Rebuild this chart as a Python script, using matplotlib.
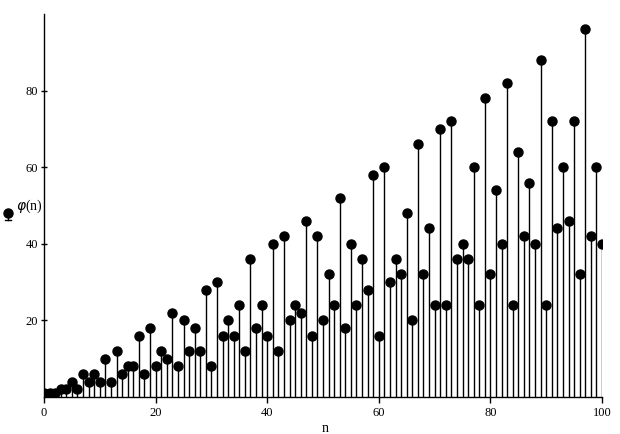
import numpy as np
import matplotlib
matplotlib.use("Agg")
import matplotlib.pyplot as plt
from matplotlib.lines import Line2D

# n = 0..100 and the plotted values phi(n)
n_values = list(range(0, 101))
phi_values = [
    1,
    1, 1, 2, 2, 4, 2, 6, 4, 6, 4,
    10, 4, 12, 6, 8, 8, 16, 6, 18, 8,
    12, 10, 22, 8, 20, 12, 18, 12, 28, 8,
    30, 16, 20, 16, 24, 12, 36, 18, 24, 16,
    40, 12, 42, 20, 24, 22, 46, 16, 42, 20,
    32, 24, 52, 18, 40, 24, 36, 28, 58, 16,
    60, 30, 36, 32, 48, 20, 66, 32, 44, 24,
    70, 24, 72, 36, 40, 36, 60, 24, 78, 32,
    54, 40, 82, 24, 64, 42, 56, 40, 88, 24,
    72, 44, 60, 46, 72, 32, 96, 42, 60, 40,
]
x_ticks = [0, 20, 40, 60, 80, 100]
y_ticks = [20, 40, 60, 80]

plt.rcParams['font.family'] = ['Liberation Serif', 'DejaVu Serif']

fig = plt.figure(figsize=(6.2, 4.34), dpi=100)
ax = fig.add_axes([44 / 620, 1 - 397 / 434, (602 - 44) / 620, (397 - 14) / 434])

ax.vlines(n_values, 0, phi_values, color='black', lw=1.0)
ax.plot(n_values, phi_values, 'o', color='black', ms=6.5)

ax.set_xlim(0, 100)
ax.set_ylim(0, 100)
ax.set_xticks(x_ticks)
ax.set_yticks(y_ticks)
ax.tick_params(axis='x', direction='out', length=4, width=1, labelsize=9, pad=3)
ax.tick_params(axis='y', direction='inout', length=5, width=1, labelsize=9, pad=2)

for side in ['top', 'right']:
    ax.spines[side].set_visible(False)
for side in ['left', 'bottom']:
    ax.spines[side].set_linewidth(1.0)

# x label placed where the original has it
fig.text(325 / 620, 1 - 428 / 434, 'n', fontsize=10, ha='center', va='center')

# y label with small stem glyph, as in the original
fig.text(16 / 620, 1 - 206 / 434, r'$\varphi$(n)', fontsize=10, va='center', ha='left')
fig.add_artist(Line2D([8 / 620, 8 / 620], [1 - 213 / 434, 1 - 220 / 434],
                      transform=fig.transFigure, color='black', lw=1))
fig.add_artist(Line2D([5 / 620, 11 / 620], [1 - 220 / 434, 1 - 220 / 434],
                      transform=fig.transFigure, color='black', lw=1))
fig.add_artist(Line2D([8 / 620], [1 - 213 / 434], marker='o', ms=6.5,
                      color='black', transform=fig.transFigure))

fig.savefig('out.png', dpi=100)
